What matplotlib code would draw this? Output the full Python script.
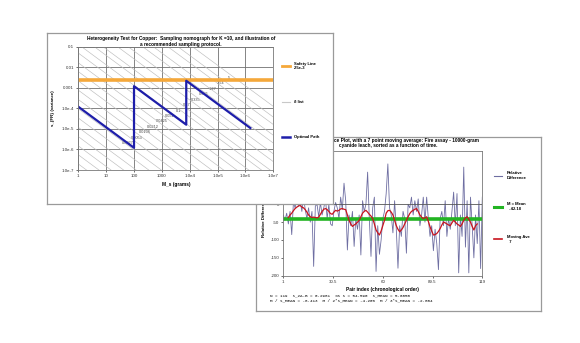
import numpy as np
import matplotlib
matplotlib.use("Agg")
import matplotlib.pyplot as plt
from matplotlib.lines import Line2D

# ---------------- chart 1: sampling nomograph ----------------
path_mass = [1, 100, 100, 7.5e3, 7.5e3, 1.5e6]
path_var = [1.2e-4, 1.2e-6, 1.2e-3, 1.6e-5, 2.2e-3, 1.1e-5]
safety_var = 2.5e-3
k_factor = 10
# particle sizes (cm) of the "delta list" lines
delta_list = [5, 3.35, 2.54, 1.7, 1.27, 0.85, 0.635, 0.425, 0.335, 0.236, 0.17,
              0.118, 0.085, 0.06, 0.0425, 0.03, 0.0212, 0.015, 0.0106, 0.0075,
              0.0053, 0.0038, 0.0027, 0.0019]
delta_labels = ['5', '2.54', '1.27', '0.635', '0.335', '0.17', '0.1', '0.051',
                '0.0425', '0.0212', '0.0106', '0.0053', '0.0027']
mass_ticks = [1, 10, 100, 1000, 1e4, 1e5, 1e6, 1e7]
mass_labels = ['1', '10', '100', '1000', '1.0e4', '1.0e5', '1.0e6', '1.0e7']
var_ticks = [1e-7, 1e-6, 1e-5, 1e-4, 1e-3, 1e-2, 1e-1]
var_labels = ['1.0e-7', '1.0e-6', '1.0e-5', '1.0e-4', '0.001', '0.01', '0.1']

# ---------------- chart 2: relative difference plot ----------------
rel_diff = [-30, -45, -25, -55, -20, -85, 5, -10, 15, -5,
            10, -20, 20, -15, -40, -10, -50, -20, -174, -5,
            0, -35, 5, -30, -10, 15, -40, 0, -55, -60,
            -20, 5, -10, -40, 20, -15, 59, 10, -128, -30,
            -60, -20, -118, -40, -70, -30, -142, 10, -20, 0,
            90, -40, -146, -10, 20, -188, -60, -140, -100, -40,
            -20, 30, 113, -10, -30, -80, 10, -70, -179, -60,
            -90, -20, -40, -137, 0, -10, 20, -30, 10, -20,
            15, -60, -30, 20, -50, 20, -40, -90, -60, -130,
            -70, -110, -183, -40, -20, -60, 10, -90, -40, -70,
            -20, 34, -60, 30, -192, -30, -90, 104, -120, 10,
            -192, 20, -60, -150, -30, -110, 10, -180, 20]
moving_ave = [-37, -30, -25, -18, -12, -8, -5, -3, -8, -10,
              -15, -22, -30, -35, -37, -36, -37, -38, -36, -28,
              -20, -14, -12, -15, -20, -26, -28, -22, -17, -19,
              -17, -13, -12, -14, -15, -30, -45, -55, -62, -58,
              -55, -50, -45, -35, -25, -20, -17, -22, -28, -33,
              -40, -55, -72, -80, -86, -75, -60, -45, -25, -18,
              -17, -22, -30, -45, -60, -70, -77, -72, -65, -55,
              -45, -35, -26, -20, -17, -14, -12, -20, -30, -36,
              -40, -38, -35, -48, -63, -75, -86, -85, -82, -76,
              -68, -58, -50, -52, -55, -58, -60, -52, -45, -50,
              -55, -58, -62, -55, -45, -38, -35, -42, -50, -62,
              -72, -60, -55]
ma_start = 4
mean_value = -42.18
pair_ticks = [1, 30.5, 60, 89.5, 119]
diff_ticks = [-200, -150, -100, -50, 0, 50, 100, 150]

W, H = 580, 343
fig = plt.figure(figsize=(W / 100, H / 100), dpi=100)
fig.patch.set_facecolor('white')


def rect(x0, y0, x1, y1):
    # pixel box (top-left origin) -> figure fraction
    return [x0 / W, 1 - y1 / H, (x1 - x0) / W, (y1 - y0) / H]


def fx(x):
    return x / W


def fy(y):
    return 1 - y / H


def panel(box, z):
    a = fig.add_axes(rect(*box), zorder=z)
    a.set_xticks([])
    a.set_yticks([])
    a.set_facecolor('white')
    for s in a.spines.values():
        s.set_color('#9a9a9a')
        s.set_linewidth(0.9)
    return a


def legend_item(a, y, color, lw, text, x0, x1, tx):
    a.add_line(Line2D([fx(x0), fx(x1)], [fy(y), fy(y)], transform=fig.transFigure,
                      color=color, lw=lw, clip_on=False))
    a.text(fx(tx), fy(y), text, transform=fig.transFigure, fontsize=3,
           fontweight='bold', va='center', ha='left', family='Liberation Sans')


tick_font = dict(fontsize=3.2, family='Liberation Sans')

# ---- panel 2 (behind) ----
p2 = panel((255.7, 136.7, 541, 311), 1)
ax2 = fig.add_axes(rect(283.3, 150.7, 482.3, 275.7), zorder=2)
idx = np.arange(1, len(rel_diff) + 1)
ax2.plot(idx, rel_diff, color='#6e6ea2', lw=0.6)
ax2.axhline(mean_value, color='#22b422', lw=2.6)
ax2.plot(np.arange(ma_start, ma_start + len(moving_ave)), moving_ave, color='#c8141e', lw=0.9)
ax2.axhline(0, color='#555555', lw=0.6)
ax2.set_xlim(1, 119)
ax2.set_ylim(-200, 150)
ax2.set_xticks(pair_ticks)
ax2.set_xticklabels(['1', '30.5', '60', '89.5', '119'], **tick_font)
ax2.set_yticks(diff_ticks)
ax2.set_yticklabels([str(v) for v in diff_ticks], **tick_font)
ax2.tick_params(length=1.5, width=0.5, pad=1.5, colors='#333333')
for s in ax2.spines.values():
    s.set_color('#777777')
    s.set_linewidth(0.6)
ax2.set_xlabel('Pair index (chronological order)', fontsize=3.4, fontweight='bold',
               family='Liberation Sans', labelpad=2)
ax2.set_ylabel('Relative Difference (%)', fontsize=3.2, fontweight='bold',
               family='Liberation Sans', labelpad=3)
p2.text(fx(388), fy(143), 'Relative Difference Plot, with a 7 point moving average: Fire assay - 10000-gram\n'
        'cyanide leach, sorted as a function of time.', transform=fig.transFigure,
        ha='center', va='center', fontsize=3.4, fontweight='bold', family='Liberation Sans',
        linespacing=1.2)
p2.text(fx(270), fy(297.5), 'N = 119  s_2A-B = 0.2981  %s s = 54.590  s_MEAN = 5.0050\n'
        'M / s_MEAN = -8.413  M / 2*s_MEAN = -4.206  M / 3*s_MEAN = -2.804',
        transform=fig.transFigure, ha='left', va='center', fontsize=3.1,
        family='Liberation Mono', linespacing=1.3)
legend_item(p2, 175.7, '#6e6ea2', 0.8, 'Relative\nDifference', 494, 502, 507)
legend_item(p2, 206.5, '#22b422', 2.2, 'M = Mean\n  -42.18', 494, 502, 507)
legend_item(p2, 239.3, '#c8141e', 1.2, 'Moving Ave\n  7', 494, 502, 507)

# ---- panel 1 (front) ----
p1 = panel((46.7, 32.7, 332.7, 204), 3)
ax1 = fig.add_axes(rect(78.3, 46.7, 273.3, 170), zorder=4)
ax1.set_xscale('log')
ax1.set_yscale('log')
m_line = np.logspace(-2, 9, 50)
for d in delta_list:
    ax1.plot(m_line, k_factor * d ** 3 / m_line, color='#bdbdbd', lw=0.45)
ax1.axhline(safety_var, color='#f5a83a', lw=2.6)
ax1.plot(path_mass, path_var, color='#1e1eaa', lw=1.6)

# size labels sit on a slanted band from upper right to lower left
lab_x = np.linspace(229, 128, len(delta_labels))
lab_y = np.linspace(78, 143, len(delta_labels))
for s, x, y in zip(delta_labels, lab_x, lab_y):
    p1.text(fx(x), fy(y), s, transform=fig.transFigure, fontsize=2.8, color='#444444',
            ha='center', va='center', family='Liberation Sans', zorder=5)

ax1.set_xlim(1, 1e7)
ax1.set_ylim(1e-7, 0.1)
ax1.set_xticks(mass_ticks)
ax1.set_xticklabels(mass_labels, **tick_font)
ax1.set_yticks(var_ticks)
ax1.set_yticklabels(var_labels, **tick_font)
ax1.minorticks_off()
ax1.grid(True, color='#707070', lw=0.6)
ax1.set_axisbelow(True)
ax1.tick_params(length=1.5, width=0.5, pad=1.5, colors='#333333')
for s in ax1.spines.values():
    s.set_color('#777777')
    s.set_linewidth(0.6)
ax1.set_xlabel('M_s (grams)', fontsize=3.4, fontweight='bold', family='Liberation Sans', labelpad=3)
ax1.set_ylabel('s_{FR} (variance)', fontsize=3.2, fontweight='bold', family='Liberation Sans',
               labelpad=5)
ax1.patch.set_alpha(0)
p1.text(fx(181), fy(41.5), 'Heterogeneity Test for Copper:  Sampling nomograph for K =10, and illustration of\n'
        'a recommended sampling protocol.', transform=fig.transFigure, ha='center', va='center',
        fontsize=3.4, fontweight='bold', family='Liberation Sans', linespacing=1.2)
legend_item(p1, 66, '#f5a83a', 2.0, 'Safety Line\n2.5e-3', 282, 290, 294)
legend_item(p1, 101.7, '#c8c8c8', 0.8, 'δ list', 282, 290, 294)
legend_item(p1, 136.7, '#1e1eaa', 1.8, 'Optimal Path', 282, 290, 294)

fig.savefig('out.png', dpi=100)
